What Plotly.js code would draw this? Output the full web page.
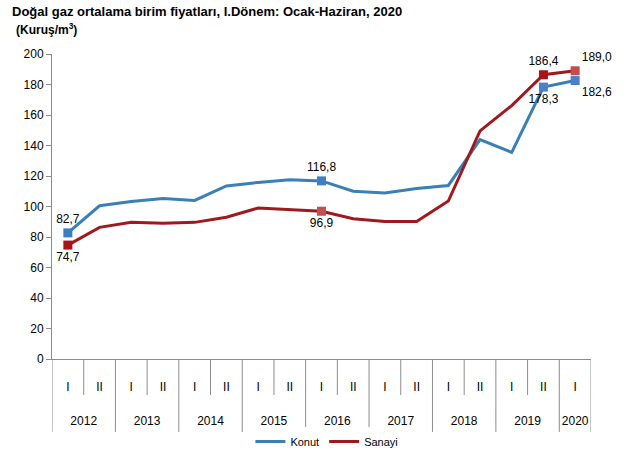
<!DOCTYPE html>
<html>
<head>
<meta charset="utf-8">
<script src="https://cdn.plot.ly/plotly-3.0.1.min.js"></script>
<style>
html,body{margin:0;padding:0;background:#fff;}
#chart{width:640px;height:459px;}
</style>
</head>
<body>
<div id="chart"></div>
<script>
const years = ['2012','2012','2013','2013','2014','2014','2015','2015','2016','2016','2017','2017','2018','2018','2019','2019','2020'];
const halves = ['I','II','I','II','I','II','I','II','I','II','I','II','I','II','I','II','I'];
const konut = [82.7,100.5,103.3,105.3,104.0,113.5,115.8,117.6,116.8,110.0,108.8,111.8,113.8,143.8,135.5,178.3,182.6];
const sanayi = [74.7,86.3,89.6,89.0,89.6,93.0,99.0,97.8,96.9,92.0,90.2,90.2,103.6,149.6,166.2,186.4,189.0];
const labelIdx = [0,8,15,16];
const konutLabelPos = ['top center','top center','bottom center','bottom right'];
const sanayiLabelPos = ['bottom center','bottom center','top center','top right'];

const FONT = 'Liberation Sans, Arial, sans-serif';
const fmt = v => v.toFixed(1).replace('.', ',');
const pick = (arr, idx) => idx.map(i => arr[i]);
const idx = halves.map((_, i) => i);

// year groups derived from the category arrays
const yearNames = [...new Set(years)];
const yearCenters = yearNames.map(y => {
  const ii = idx.filter(i => years[i] === y);
  return (ii[0] + ii[ii.length - 1]) / 2;
});
const yearBounds = [-0.5].concat(yearNames.map(y => {
  const ii = idx.filter(i => years[i] === y);
  return ii[ii.length - 1] + 0.5;
}));
const halfBounds = idx.slice(0, -1).map(i => i + 0.5).filter(b => !yearBounds.includes(b));

const konutLine = '#3A7FB6';
const sanayiLine = '#9E1A1F';
const axisGray = '#8C8C8C';

const traces = [
  {x: idx, y: konut, type: 'scatter', mode: 'lines', name: 'Konut',
   line: {color: konutLine, width: 3}},
  {x: idx, y: sanayi, type: 'scatter', mode: 'lines', name: 'Sanayi',
   line: {color: sanayiLine, width: 3}},
  {x: labelIdx, y: pick(konut, labelIdx), type: 'scatter', mode: 'markers+text', showlegend: false,
   marker: {symbol: 'square', size: 9, color: ['#3B7DC2','#3F7FC6','#4A80C8','#4A80C8']},
   text: pick(konut, labelIdx).map(fmt), textposition: konutLabelPos,
   textfont: {family: FONT, size: 12, color: '#000'}, cliponaxis: false},
  {x: labelIdx, y: pick(sanayi, labelIdx), type: 'scatter', mode: 'markers+text', showlegend: false,
   marker: {symbol: 'square', size: 9, color: ['#A81418','#C0504D','#A81418','#C0504D']},
   text: pick(sanayi, labelIdx).map(fmt), textposition: sanayiLabelPos,
   textfont: {family: FONT, size: 12, color: '#000'}, cliponaxis: false},
  {x: yearCenters, y: yearCenters.map(() => null), xaxis: 'x2', yaxis: 'y', type: 'scatter',
   mode: 'lines', showlegend: false, hoverinfo: 'skip'}
];

const shapes = [];
halfBounds.forEach(b => shapes.push({type: 'line', xref: 'x', yref: 'paper', x0: b, x1: b,
  y0: 0, y1: -0.118, line: {color: axisGray, width: 1}}));
yearBounds.forEach(b => shapes.push({type: 'line', xref: 'x', yref: 'paper', x0: b, x1: b,
  y0: 0, y1: -0.239, line: {color: axisGray, width: 1}}));

const layout = {
  width: 640, height: 459,
  margin: {l: 52, r: 49, t: 54, b: 100, autoexpand: false},
  paper_bgcolor: '#fff', plot_bgcolor: '#fff',
  font: {family: FONT, size: 12, color: '#000'},
  annotations: [
    {text: '<b>Doğal gaz ortalama birim fiyatları, I.Dönem: Ocak-Haziran, 2020</b>', xref: 'paper', yref: 'paper',
     x: -0.078, y: 1.138, xanchor: 'left', yanchor: 'middle', showarrow: false,
     font: {family: FONT, size: 13, color: '#000'}},
    {text: '<b>(Kuruş/m<sup>3</sup>)</b>', xref: 'paper', yref: 'paper',
     x: -0.071, y: 1.082, xanchor: 'left', yanchor: 'middle', showarrow: false,
     font: {family: FONT, size: 12, color: '#000'}}
  ],
  shapes: shapes,
  xaxis: {range: [-0.5, 16.5], tickvals: idx, ticktext: halves, showline: true, linecolor: axisGray,
          linewidth: 1, showgrid: false, zeroline: false, ticks: 'outside', ticklen: 17,
          tickcolor: 'rgba(0,0,0,0)', automargin: false,
          tickfont: {family: FONT, size: 12, color: '#000'}},
  xaxis2: {overlaying: 'x', matches: 'x', anchor: 'y', side: 'bottom', tickvals: yearCenters,
           ticktext: yearNames, showline: false, showgrid: false, zeroline: false, ticks: 'outside',
           ticklen: 51, tickcolor: 'rgba(0,0,0,0)', automargin: false,
           tickfont: {family: FONT, size: 12, color: '#000'}},
  yaxis: {range: [0, 200], dtick: 20, showline: true, linecolor: axisGray, linewidth: 1,
          showgrid: false, zeroline: false, ticks: 'outside', ticklen: 5, tickcolor: axisGray,
          automargin: false, tickfont: {family: FONT, size: 12, color: '#000'}},
  legend: {orientation: 'h', x: 0.51, xanchor: 'center', y: -0.223, yanchor: 'top',
           font: {family: FONT, size: 11, color: '#000'}, itemwidth: 30},
  showlegend: true
};

Plotly.newPlot('chart', traces, layout, {displayModeBar: false, staticPlot: true});
</script>
</body>
</html>
